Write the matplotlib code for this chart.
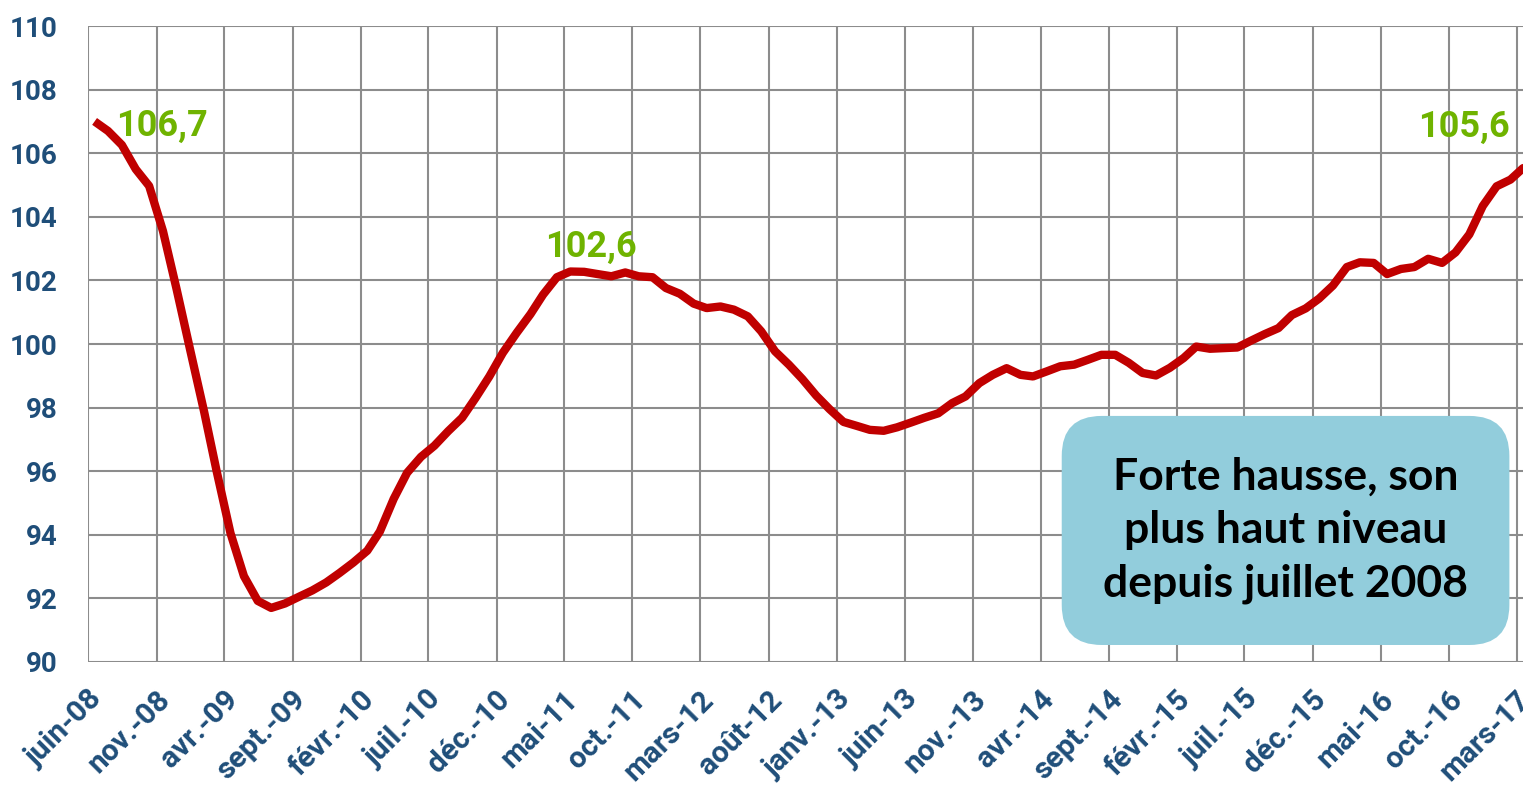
import numpy as np
import pandas as pd
import matplotlib
matplotlib.use("Agg")
import matplotlib.pyplot as plt
import matplotlib.dates as mdates
from matplotlib.transforms import ScaledTranslation

# données mensuelles (points au milieu du mois), mai-08 -> mars-17
dates = pd.date_range("2008-05-15", periods=107, freq="MS") + pd.Timedelta(days=14)
values = [107.0, 106.7, 106.26, 105.5, 104.97, 103.55, 101.75, 99.8, 97.87, 96.0,
          94.05, 92.7, 91.92, 91.7, 91.84, 92.05, 92.25, 92.5, 92.8, 93.13,
          93.5, 94.1, 95.13, 95.95, 96.45, 96.8, 97.26, 97.68, 98.3, 98.98,
          99.72, 100.35, 100.94, 101.55, 102.1, 102.28, 102.27, 102.2, 102.13, 102.25,
          102.13, 102.1, 101.76, 101.58, 101.27, 101.13, 101.18, 101.08, 100.87, 100.4,
          99.77, 99.35, 98.9, 98.38, 97.95, 97.55, 97.42, 97.3, 97.27, 97.38,
          97.53, 97.68, 97.82, 98.14, 98.35, 98.77, 99.03, 99.24, 99.03, 98.98,
          99.14, 99.3, 99.35, 99.5, 99.66, 99.66, 99.41, 99.09, 99.01, 99.25,
          99.56, 99.92, 99.85, 99.87, 99.89, 100.1, 100.31, 100.5, 100.91, 101.12,
          101.43, 101.84, 102.42, 102.57, 102.55, 102.2, 102.36, 102.42, 102.68, 102.55,
          102.88, 103.45, 104.34, 104.96, 105.17, 105.53, 105.66]

tick_dates = pd.date_range("2008-06-01", "2017-03-01", freq="5MS")
tick_labels = ["juin-08", "nov.-08", "avr.-09", "sept.-09", "févr.-10", "juil.-10",
               "déc.-10", "mai-11", "oct.-11", "mars-12", "août-12", "janv.-13",
               "juin-13", "nov.-13", "avr.-14", "sept.-14", "févr.-15", "juil.-15",
               "déc.-15", "mai-16", "oct.-16", "mars-17"]
y_ticks = list(range(90, 111, 2))

# étiquettes vertes
notes = [("106,7", "2008-11-12", 106.86),
         ("102,6", "2011-07-01", 103.06),
         ("105,6", "2016-11-04", 106.83)]
box_text = "Forte hausse, son\nplus haut niveau\ndepuis juillet 2008"

BLUE = "#1f4e79"
GREEN = "#6fb300"
GRID = "#8c8c8c"

plt.rcParams["font.family"] = ["Roboto", "DejaVu Sans"]
fig = plt.figure(figsize=(15.23, 7.89), dpi=100)
ax = fig.add_axes([0.058, 0.161, 0.942, 0.806])

ax.plot(dates, values, color="#c00000", lw=6, solid_joinstyle="round",
        solid_capstyle="butt", zorder=3)

ax.set_xlim(pd.Timestamp("2008-06-01"), pd.Timestamp("2017-03-15"))
ax.set_ylim(90, 110)
ax.set_yticks(y_ticks)
ax.set_xticks(tick_dates)
ax.set_xticklabels(tick_labels, rotation=45, ha="right", va="center",
                   rotation_mode="anchor")
for s in ax.spines.values():
    s.set_visible(False)
ax.grid(True, color=GRID, lw=1.5)
ax.set_axisbelow(True)
ax.tick_params(axis="y", length=0, colors=BLUE, labelsize=20, pad=22)
ax.tick_params(axis="x", length=0, colors=BLUE, labelsize=21.5, pad=24)
for lab in ax.get_xticklabels() + ax.get_yticklabels():
    lab.set_fontweight("bold")
for lab in ax.get_xticklabels():
    lab.set_transform(lab.get_transform() + ScaledTranslation(9 / 100, 0, fig.dpi_scale_trans))

for txt, d, v in notes:
    ax.text(pd.Timestamp(d), v, txt, color=GREEN, fontsize=26, fontweight="bold",
            ha="center", va="center", zorder=4)

ax.text(0.8345, 0.2072, box_text, transform=ax.transAxes, ha="center", va="center",
        multialignment="center", fontsize=32, fontweight="bold", color="black",
        family=["Lato", "DejaVu Sans"], linespacing=1.4, zorder=5,
        bbox=dict(boxstyle="round,pad=0.93,rounding_size=0.9", fc="#92cddc", ec="none"))

fig.savefig("out.png", dpi=100)
